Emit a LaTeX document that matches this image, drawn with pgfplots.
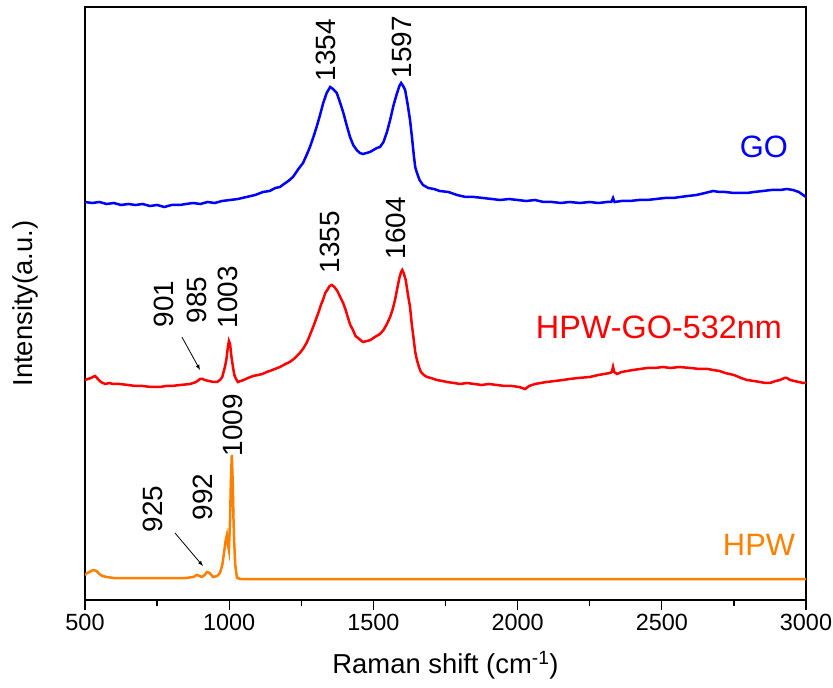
\documentclass[border=0pt]{standalone}
\usepackage{fontspec}
\setmainfont{Liberation Sans}
\usepackage{pgfplots}
\pgfplotsset{compat=1.18}
\usetikzlibrary{calc}
\definecolor{goblue}{RGB}{0,0,255}
\definecolor{hpwred}{RGB}{255,0,0}
\definecolor{hpworange}{RGB}{255,128,0}
\begin{document}
\begin{tikzpicture}[x=1bp,y=1bp]
\begin{axis}[
  name=ax,
  scale only axis,
  width=721bp, height=593bp,
  xmin=500, xmax=3000, ymin=0, ymax=593,
  xtick={500,1000,...,3000},
  minor x tick num=1,
  xtick pos=bottom,
  ytick=\empty,
  x tick style={line width=1.2bp, black},
  xtick align=outside,
  major tick length=10bp,
  minor tick length=6bp,
  axis line style={line width=1.6bp},
  /pgf/number format/assume math mode=true,
  /pgf/number format/1000 sep={},
  ticklabel style={font=\fontsize{23.5}{26}\selectfont},
  xticklabel style={yshift=-1bp},
  xlabel={Raman shift (cm\textsuperscript{-1})},
  ylabel={Intensity(a.u.)},
  label style={font=\fontsize{27.5}{30}\selectfont},
  xlabel style={at={(axis description cs:0.5,-0.1096)}, anchor=center},
  ylabel style={at={(axis description cs:-0.0832,0.50)}, anchor=center},
  clip=true,
]
% GO (blue)
\addplot[goblue, line width=2.5bp] coordinates {
(500,398)(525,397)(550,398)(575,396)(600,397)(625,395)(650,396)(675,395)(700,396)(725,394)(750,395)(775,393)(800,395)(829,395)(850,396)(875,397)(900,396)(925,398)(950,397)(975,399)(1003,400)(1030,401)(1060,403)(1090,405)(1117,408)(1140,409)(1160,412)(1176,413)(1190,416)(1205,419)(1221,423)(1240,431)(1256,437)(1270,446)(1280,453)(1292,463)(1303,473)(1315,485)(1326,497)(1338,507)(1350,513)(1360,511)(1373,507)(1385,497)(1396,487)(1408,474)(1419,463)(1430,455)(1442,450)(1453,447)(1464,446)(1476,447)(1488,448)(1500,450)(1512,452)(1523,453)(1535,458)(1547,468)(1558,480)(1570,495)(1580,505)(1590,514)(1596,517)(1603,514)(1610,510)(1618,497)(1627,480)(1634,462)(1640,445)(1645,433)(1650,428)(1660,420)(1672,415)(1690,412)(1710,411)(1730,409)(1760,408)(1790,405)(1820,403)(1850,403)(1880,402)(1910,401)(1940,400)(1970,401)(2000,400)(2030,399)(2060,400)(2090,398)(2120,398)(2150,397)(2180,398)(2216,397)(2250,398)(2280,397)(2310,398)(2325,398)(2331,402)(2336,398)(2360,399)(2390,399)(2420,400)(2449,400)(2480,401)(2510,402)(2540,402)(2563,403)(2590,404)(2620,405)(2650,407)(2678,409)(2700,408)(2720,408)(2750,407)(2775,407)(2795,407)(2820,408)(2850,409)(2880,410)(2910,410)(2934,411)(2955,410)(2975,408)(2990,405)(3000,403)
};
% HPW-GO-532nm (red)
\addplot[hpwred, line width=2.5bp] coordinates {
(500,220)(510,221)(520,222)(535,224)(545,221)(555,218)(570,216)(585,217)(597,216)(620,216)(650,215)(675,214)(700,214)(730,213)(760,213)(780,214)(800,214)(830,215)(864,216)(875,217)(885,218)(899,221)(908,221)(915,220)(930,219)(945,218)(958,218)(968,220)(976,223)(985,233)(990,240)(995,252)(999,259)(1003,256)(1007,245)(1013,233)(1018,225)(1022,222)(1030,218)(1040,219)(1050,220)(1065,222)(1083,224)(1100,225)(1115,226)(1130,228)(1150,230)(1176,233)(1195,236)(1210,238)(1228,242)(1245,247)(1258,252)(1270,258)(1280,265)(1291,273)(1300,280)(1310,288)(1318,295)(1325,300)(1333,307)(1340,310)(1348,314)(1356,315)(1365,313)(1375,309)(1385,303)(1395,297)(1404,290)(1412,282)(1420,275)(1429,270)(1438,264)(1447,262)(1455,260)(1464,258)(1477,259)(1490,260)(1505,263)(1523,266)(1535,270)(1545,275)(1558,283)(1566,290)(1575,300)(1583,312)(1590,322)(1596,328)(1600,330)(1605,327)(1612,320)(1620,305)(1627,293)(1633,276)(1640,260)(1645,248)(1651,240)(1658,233)(1665,228)(1675,225)(1686,223)(1700,222)(1720,220)(1740,219)(1755,218)(1780,217)(1800,216)(1825,217)(1850,216)(1875,215)(1900,216)(1929,215)(1955,214)(1980,214)(2005,213)(2026,211)(2040,214)(2060,216)(2080,217)(2100,218)(2130,219)(2157,220)(2180,221)(2210,222)(2250,223)(2280,225)(2300,226)(2320,227)(2327,228)(2331,233)(2335,228)(2345,226)(2360,228)(2380,229)(2400,230)(2425,231)(2449,232)(2475,232)(2504,233)(2530,232)(2560,233)(2600,232)(2630,231)(2660,231)(2678,230)(2700,229)(2720,227)(2750,225)(2775,222)(2795,220)(2820,219)(2840,218)(2860,217)(2875,217)(2895,219)(2910,220)(2925,222)(2934,222)(2945,220)(2960,219)(2975,218)(2990,217)(3000,217)
};
% HPW (orange)
\addplot[hpworange, line width=2.5bp] coordinates {
(500,25)(508,27)(515,28)(528,30)(540,29)(550,26)(560,24)(576,23)(600,22)(650,22)(715,22)(800,22)(850,22)(875,23)(888,25)(898,24)(905,23)(915,25)(923,28)(932,27)(944,23)(958,24)(968,27)(976,35)(982,47)(988,60)(992,65)(996,55)(999,50)(1003,80)(1006,120)(1009,145)(1012,120)(1015,80)(1017,60)(1021,35)(1027,22)(1040,21)(1100,21)(1200,21)(1400,21)(1600,21)(1800,21)(2000,21)(2200,21)(2400,21)(2600,21)(2800,21)(3000,21)
};
% annotations
\node[rotate=90, font=\fontsize{28}{30}\selectfont] at (axis cs:1336,550) {1354};
\node[rotate=90, font=\fontsize{28}{30}\selectfont] at (axis cs:1599,553) {1597};
\node[rotate=90, font=\fontsize{28}{30}\selectfont] at (axis cs:1349,358) {1355};
\node[rotate=90, font=\fontsize{28}{30}\selectfont] at (axis cs:1578,372) {1604};
\node[rotate=90, font=\fontsize{28}{30}\selectfont] at (axis cs:996,303) {1003};
\node[rotate=90, font=\fontsize{28}{30}\selectfont] at (axis cs:888,300) {985};
\node[rotate=90, font=\fontsize{28}{30}\selectfont] at (axis cs:774,296) {901};
\draw[-latex, line width=0.8bp] (axis cs:836,263) -- (axis cs:899,230);
\node[rotate=90, font=\fontsize{28}{30}\selectfont] at (axis cs:1013,175) {1009};
\node[rotate=90, font=\fontsize{28}{30}\selectfont] at (axis cs:909,103) {992};
\node[rotate=90, font=\fontsize{28}{30}\selectfont] at (axis cs:736,91) {925};
\draw[-latex, line width=0.8bp] (axis cs:812,67) -- (axis cs:909,34);
\node[goblue, font=\fontsize{31}{34}\selectfont] at (axis cs:2854,453) {GO};
\node[hpwred, font=\fontsize{32.5}{35}\selectfont] at (axis cs:2490,273) {HPW-GO-532nm};
\node[hpworange, font=\fontsize{31}{34}\selectfont] at (axis cs:2837,55) {HPW};
\end{axis}
\pgfresetboundingbox
\path[use as bounding box] ($(ax.south west)+(-85bp,-88bp)$) rectangle ($(ax.north east)+(27bp,7bp)$);
\end{tikzpicture}
\end{document}
